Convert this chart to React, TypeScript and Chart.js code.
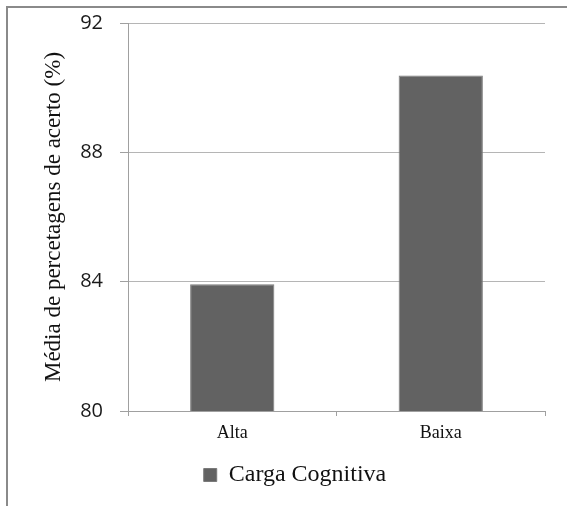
import React, { useEffect, useRef } from "react";
import { Chart, registerables } from "chart.js";

Chart.register(...registerables);

const categories = ["Alta", "Baixa"];
const seriesName = "Carga Cognitiva";
const values = [83.92, 90.38];
const yTicks = [80, 84, 88, 92];

export default function App() {
  const ref = useRef<HTMLCanvasElement | null>(null);

  useEffect(() => {
    if (!ref.current) return;
    const chart = new Chart(ref.current, {
      type: "bar",
      data: {
        labels: categories,
        datasets: [
          {
            label: seriesName,
            data: values,
            backgroundColor: "#626262",
            borderColor: "#7a7a7a",
            borderWidth: 1,
            barPercentage: 0.404,
            categoryPercentage: 1,
          },
        ],
      },
      options: {
        responsive: false,
        animation: false,
        layout: { padding: { left: 45, top: 23, right: 22, bottom: 9 } },
        plugins: {
          tooltip: { enabled: false },
          legend: {
            position: "bottom",
            align: "center",
            labels: {
              boxWidth: 13,
              boxHeight: 13,
              padding: 10,
              color: "#111",
              font: { family: "'Liberation Serif', 'Times New Roman', serif", size: 24 },
            },
          },
        },
        scales: {
          x: {
            afterFit: (s: any) => {
              s.height = 42;
            },
            grid: {
              display: true,
              drawOnChartArea: false,
              drawTicks: true,
              tickLength: 5,
              color: "#a0a0a0",
              offset: true,
            },
            border: { color: "#a0a0a0", width: 1 },
            ticks: {
              padding: 6,
              color: "#111",
              font: { family: "'Liberation Serif', 'Times New Roman', serif", size: 18 },
            },
          },
          y: {
            min: 80,
            max: 92,
            afterFit: (s: any) => {
              s.width = 83;
              s.paddingTop = 0;
              s.paddingBottom = 0;
            },
            afterBuildTicks: (s: any) => {
              s.ticks = yTicks.map((v) => ({ value: v }));
            },
            grid: {
              color: "#b5b5b5",
              lineWidth: 1,
              drawTicks: true,
              tickLength: 8,
              tickColor: "#a0a0a0",
            },
            border: { color: "#a0a0a0", width: 1 },
            ticks: {
              padding: 17,
              color: "#1a1a1a",
              font: { family: "'Open Sans', sans-serif", size: 20 },
            },
            title: {
              display: true,
              text: "Média de percetagens de acerto (%)",
              color: "#111",
              padding: { top: -3, bottom: 0 },
              font: { family: "'Liberation Serif', 'Times New Roman', serif", size: 23, lineHeight: 1 },
            },
          },
        },
      },
    });
    return () => chart.destroy();
  }, []);

  return (
    <>
      <div
        style={{
          position: "fixed",
          left: 6,
          top: 6,
          right: 0,
          bottom: 0,
          borderTop: "2px solid #8a8a8a",
          borderLeft: "2px solid #8a8a8a",
          background: "#fff",
        }}
      />
      <canvas
        ref={ref}
        width={567}
        height={506}
        style={{ position: "fixed", left: 0, top: 0, width: 567, height: 506 }}
      />
    </>
  );
}
